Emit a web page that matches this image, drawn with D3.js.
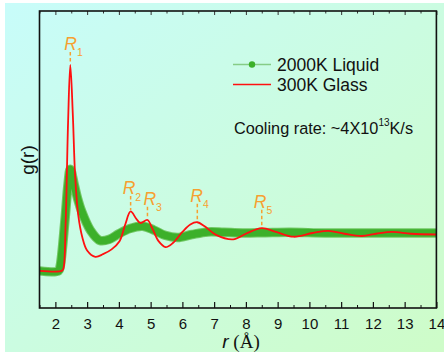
<!DOCTYPE html>
<html><head><meta charset="utf-8">
<script src="https://cdn.jsdelivr.net/npm/d3@7"></script>
<style>html,body{margin:0;padding:0;background:#fff;}svg{display:block;}</style>
</head><body>
<script>
// ---- data ----
const xTicks = [2,3,4,5,6,7,8,9,10,11,12,13,14];
const minorTicks = [1.5,2.5,3.5,4.5,5.5,6.5,7.5,8.5,9.5,10.5,11.5,12.5,13.5];
const glassR = [1.5,2.2,2.25,2.32,2.4,2.47,2.55,2.62,2.72,2.85,3.0,3.26,3.5,3.77,4.02,4.2,4.37,4.55,4.68,4.9,5.05,5.25,5.47,5.7,6.0,6.25,6.47,6.7,7.06,7.6,8.0,8.5,8.95,9.5,10.1,10.6,11.1,11.65,12.1,12.6,13.2,14.0];
const glassG = [0,0,0.05,1.2,4.0,5.55,4.2,2.6,1.5,0.9,0.55,0.38,0.45,0.58,0.8,1.25,1.6,1.4,1.29,1.37,1.15,0.8,0.64,0.75,1.05,1.25,1.31,1.2,0.97,0.85,1.0,1.15,1.05,0.92,1.02,1.08,1.0,0.94,1.0,1.05,1.0,0.98];
const liquidR = [1.5,2.1,2.15,2.3,2.4,2.47,2.6,2.7,2.83,3.1,3.4,3.7,4.0,4.35,4.75,5.1,5.45,5.85,6.3,6.8,7.3,7.9,8.6,9.4,10.5,12,14];
const liquidG = [0,0,0.12,1.35,2.35,2.74,2.3,1.95,1.6,1.1,0.82,0.85,1.0,1.14,1.2,1.1,0.96,0.9,0.98,1.05,1.04,1.02,1.03,1.04,1.02,1.02,1.02];
const peakLabels = ["1","2","3","4","5"];
const peakR = [2.47,4.37,4.9,6.47,8.5];
const peakG = [5.55,1.6,1.37,1.31,1.15];
const labelG = [5.95,2.07,1.78,1.86,1.70];
const seriesNames = ["2000K Liquid","300K Glass"];

const W=444,H=352;
const svg=d3.select("body").append("svg").attr("width",W).attr("height",H);
const defs=svg.append("defs");
const grad=defs.append("linearGradient").attr("id","bg").attr("x1","0").attr("y1","0").attr("x2","1").attr("y2","1");
grad.append("stop").attr("offset","0").attr("stop-color","#c8fcfa");
grad.append("stop").attr("offset","1").attr("stop-color","#cefcc8");
svg.append("rect").attr("x",5).attr("y",3).attr("width",W-5).attr("height",H-3).attr("fill","url(#bg)");

const L=39.5,R=436.4,T=11,B=308;
const x=d3.scaleLinear().domain([1.5,14]).range([L,R]);
const y=d3.scaleLinear().domain([-1,7]).range([B,T]);

const plot=svg.append("g");
defs.append("clipPath").attr("id","clip").append("rect").attr("x",L).attr("y",T).attr("width",R-L).attr("height",B-T);

const line=d3.line().x(d=>x(d[0])).y(d=>y(d[1])).curve(d3.curveCatmullRom.alpha(0.5));
const liquid=liquidR.map((r,i)=>[r,liquidG[i]]);
const glass=glassR.map((r,i)=>[r,glassG[i]]);
const cg=plot.append("g").attr("clip-path","url(#clip)");
cg.append("path").attr("d",line(liquid)).attr("fill","none").attr("stroke","#72c866").attr("stroke-width",9.5).attr("stroke-linejoin","round");
cg.append("path").attr("d",line(liquid)).attr("fill","none").attr("stroke","#3cb02a").attr("stroke-width",7.5).attr("stroke-linejoin","round");
cg.append("path").attr("d",line(glass)).attr("fill","none").attr("stroke","#ff1010").attr("stroke-width",1.8).attr("stroke-linejoin","round");

// axes
const bottom=d3.axisBottom(x).tickValues(xTicks).tickSize(-6).tickPadding(10).tickFormat(d3.format("d"));
const gb=svg.append("g").attr("transform",`translate(0,${B})`).call(bottom);
gb.select(".domain").remove();
gb.selectAll("text").attr("font-family","Liberation Sans, Arial, sans-serif").attr("font-size","15px").attr("fill","#111");
gb.selectAll("line").attr("stroke","#111").attr("stroke-width",1.2);
const gbm=svg.append("g").attr("transform",`translate(0,${B})`).call(d3.axisBottom(x).tickValues(minorTicks).tickSize(-3).tickFormat(""));
gbm.select(".domain").remove(); gbm.selectAll("line").attr("stroke","#111").attr("stroke-width",1);
const gt=svg.append("g").attr("transform",`translate(0,${T})`).call(d3.axisTop(x).tickValues(xTicks).tickSize(-4).tickFormat(""));
gt.select(".domain").remove(); gt.selectAll("line").attr("stroke","#333").attr("stroke-width",1);
const gtm=svg.append("g").attr("transform",`translate(0,${T})`).call(d3.axisTop(x).tickValues(minorTicks).tickSize(-2.5).tickFormat(""));
gtm.select(".domain").remove(); gtm.selectAll("line").attr("stroke","#333").attr("stroke-width",1);

svg.append("rect").attr("x",L).attr("y",T).attr("width",R-L).attr("height",B-T).attr("fill","none").attr("stroke","#111").attr("stroke-width",1.6);

// labels
svg.append("text").attr("transform",`translate(34,160) rotate(-90)`).attr("text-anchor","middle")
  .attr("font-family","Liberation Sans, Arial, sans-serif").attr("font-size","19px").attr("fill","#111").text("g(r)");
const xl=svg.append("text").attr("x",241).attr("y",348).attr("text-anchor","middle").attr("fill","#111");
xl.append("tspan").attr("font-family","Liberation Sans, Arial, sans-serif").attr("font-style","italic").attr("font-size","19px").text("r");
xl.append("tspan").attr("font-family","Liberation Serif, Times New Roman, serif").attr("font-size","19px").text(" (Å)");

// peak annotations
const orange="#f7a030";
const labelShift=[6,8,4,7,8];
peakR.forEach((r,i)=>{
  const px=x(r), ly=y(labelG[i]);
  svg.append("line").attr("x1",px).attr("x2",px).attr("y1",ly+2).attr("y2",y(peakG[i])-1.5)
    .attr("stroke",orange).attr("stroke-width",1.5).attr("stroke-dasharray","3.5,2.5");
  const t=svg.append("text").attr("x",px-labelShift[i]).attr("y",ly).attr("fill",orange).attr("font-family","Liberation Sans, Arial, sans-serif");
  t.append("tspan").attr("font-style","italic").attr("font-size","17.5px").text("R");
  t.append("tspan").attr("font-size","10.5px").attr("dx","0").attr("dy","6.5").text(peakLabels[i]);
});

// legend
const lg=svg.append("g");
lg.append("line").attr("x1",233).attr("x2",271).attr("y1",64.5).attr("y2",64.5).attr("stroke","#86cc86").attr("stroke-width",1.5);
lg.append("circle").attr("cx",252).attr("cy",64.5).attr("r",3.2).attr("fill","#3cb02a");
lg.append("line").attr("x1",233).attr("x2",271).attr("y1",84.5).attr("y2",84.5).attr("stroke","#ff1010").attr("stroke-width",1.5);
lg.append("text").attr("x",277).attr("y",71).attr("font-family","Liberation Sans, Arial, sans-serif").attr("font-size","17.5px").attr("fill","#111").text(seriesNames[0]);
lg.append("text").attr("x",277).attr("y",91).attr("font-family","Liberation Sans, Arial, sans-serif").attr("font-size","17.5px").attr("fill","#111").text(seriesNames[1]);
const cr=svg.append("text").attr("x",234).attr("y",134).attr("font-family","Liberation Sans, Arial, sans-serif").attr("font-size","16.3px").attr("fill","#111");
cr.append("tspan").text("Cooling rate: ~4X10");
cr.append("tspan").attr("font-size","10px").attr("dy","-8").text("13");
cr.append("tspan").attr("dy","8").text("K/s");
</script>
</body></html>
